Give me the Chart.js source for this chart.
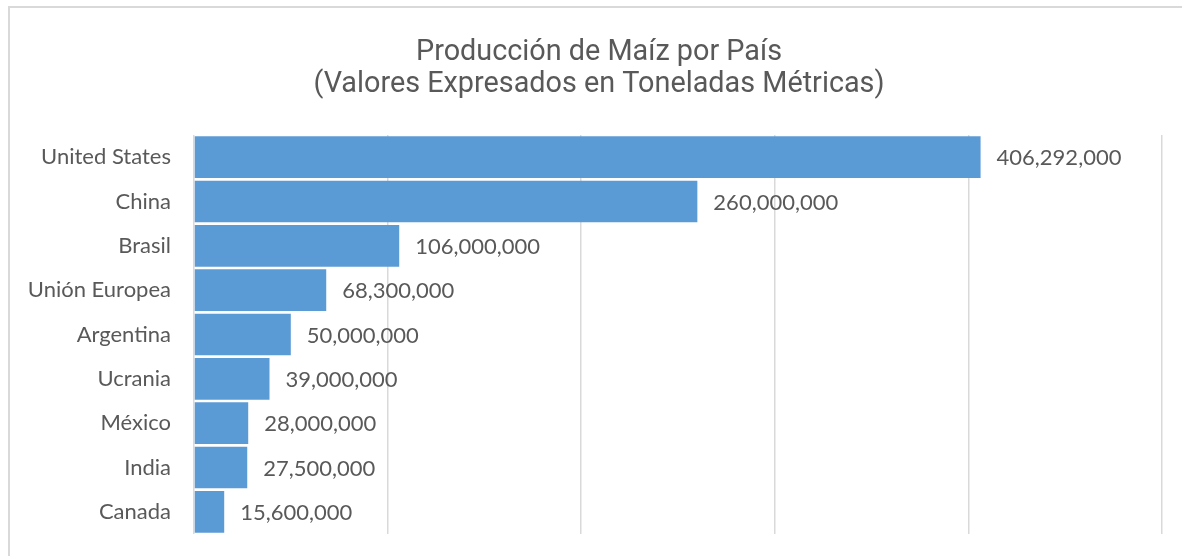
<!DOCTYPE html>
<html>
<head>
<meta charset="utf-8">
<script src="https://cdn.jsdelivr.net/npm/chart.js@4/dist/chart.umd.min.js"></script>
<style>
	html, body { margin: 0; padding: 0; background: #fff; overflow: hidden; }
	#wrap { position: relative; width: 1182px; height: 556px; }
	#frame { position: absolute; left: 8px; top: 6px; width: 1200px; height: 600px; border: 2px solid #d9d9d9; box-sizing: border-box; }
	canvas { position: absolute; left: 0; top: 0; }
</style>
</head>
<body>
<div id="wrap">
	<div id="frame"></div>
	<canvas id="chart-maiz" width="1182" height="556"></canvas>
</div>
<script>
// Chart data
const COUNTRIES = ["United States", "China", "Brasil", "Unión Europea", "Argentina", "Ucrania", "México", "India", "Canada"];
const PRODUCTION = [406292000, 260000000, 106000000, 68300000, 50000000, 39000000, 28000000, 27500000, 15600000];
const TITLE_LINES = ["Producción de Maíz por País", "(Valores Expresados en Toneladas Métricas)"];

const TEXT_COLOR = "#595959";
const LABEL_FONT = "Lato, 'Open Sans', sans-serif";

// Title is drawn by hand so it can be centred on the whole chart box,
// not on the layout area that the y labels need
const chartTitle = {
	id: "chartTitle",
	afterDraw(chart) {
		const ctx = chart.ctx;
		ctx.save();
		ctx.font = "30px Roboto, sans-serif";
		ctx.fillStyle = TEXT_COLOR;
		ctx.textAlign = "center";
		ctx.textBaseline = "alphabetic";
		ctx.translate(599, 0);
		ctx.scale(0.96, 1);
		ctx.fillText(TITLE_LINES[0], 0, 60);
		ctx.fillText(TITLE_LINES[1], 0, 92);
		ctx.restore();
	},
};

// Value labels at the end of each bar
const barValues = {
	id: "barValues",
	afterDatasetsDraw(chart) {
		const ctx = chart.ctx;
		const meta = chart.getDatasetMeta(0);
		ctx.save();
		ctx.font = "22px " + LABEL_FONT;
		ctx.fillStyle = TEXT_COLOR;
		ctx.textAlign = "left";
		ctx.textBaseline = "middle";
		meta.data.forEach((bar, i) => {
			ctx.fillText(PRODUCTION[i].toLocaleString("en-US"), bar.x + 16, bar.y + 1);
		});
		ctx.restore();
	},
};

const CHART_CONFIG = {
	type: "bar",
	data: {
		labels: COUNTRIES,
		datasets: [
			{
				data: PRODUCTION,
				backgroundColor: "#5b9bd5",
				borderWidth: 0,
				barPercentage: 0.94,
				categoryPercentage: 1,
			},
		],
	},
	options: {
		indexAxis: "y",
		responsive: false,
		animation: false,
		layout: {
			padding: { left: 10, right: 20, top: 135, bottom: 22 },
		},
		scales: {
			x: {
				min: 0,
				max: 500000000,
				border: { display: false },
				grid: { color: "#d9d9d9", lineWidth: 1.5, drawTicks: false },
				ticks: { display: false, stepSize: 100000000 },
				afterFit: (scale) => {
					scale.height = 0;
					scale.paddingLeft = 0;
					scale.paddingRight = 0;
				},
			},
			y: {
				border: { display: false },
				grid: { display: false, drawTicks: false },
				afterFit: (scale) => {
					scale.width = 184;
					scale.paddingTop = 0;
					scale.paddingBottom = 0;
				},
				ticks: {
					color: TEXT_COLOR,
					font: { family: LABEL_FONT, size: 22 },
					padding: 23,
				},
			},
		},
		plugins: {
			legend: { display: false },
			tooltip: { enabled: false },
			title: { display: false },
		},
	},
	plugins: [barValues, chartTitle],
};

new Chart(document.getElementById("chart-maiz"), CHART_CONFIG);
</script>
</body>
</html>
